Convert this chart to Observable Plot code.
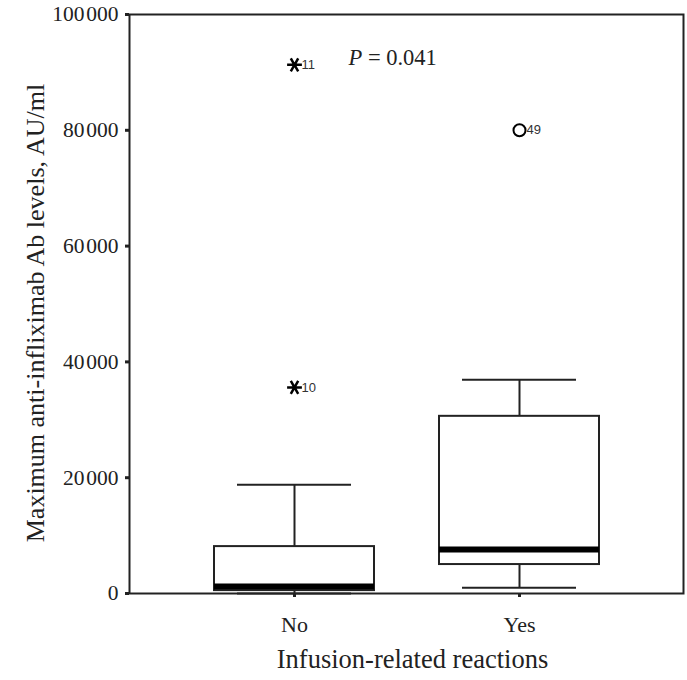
<!DOCTYPE html>
<html>
<head>
<meta charset="utf-8">
<script src="https://cdn.jsdelivr.net/npm/d3@7"></script>
<script src="https://cdn.jsdelivr.net/npm/@observablehq/plot@0.6"></script>
<style>
  html, body { margin: 0; padding: 0; background: white; }
</style>
</head>
<body>
<div id="chart"></div>
<script>
// Categories and box-plot summaries (AU/ml)
const groups = ["No", "Yes"];
const whiskerLow = [0, 1000];
const q1 = [500, 5000];
const median = [1200, 7600];
const q3 = [8100, 30600];
const whiskerHigh = [18800, 36900];

// Outliers
const outlierGroup = ["No", "No", "Yes"];
const outlierValue = [35600, 91300, 80000];
const outlierId = ["10", "11", "49"];
const outlierKind = ["extreme", "extreme", "mild"];

// Axis ticks and labels
const yTicks = [0, 20000, 40000, 60000, 80000, 100000];
const yLabel = "Maximum anti-infliximab Ab levels, AU/ml";
const xLabel = "Infusion-related reactions";
const pText = "P = 0.041";
const pPosition = {group: "No", value: 92600};

const boxes = groups.map((g, i) => ({
  group: g, lo: whiskerLow[i], q1: q1[i], median: median[i], q3: q3[i], hi: whiskerHigh[i]
}));
const outliers = outlierValue.map((v, i) => ({
  group: outlierGroup[i], value: v, id: outlierId[i], kind: outlierKind[i]
}));

const fmt = d => {
  if (d === 0) return "0";
  const s = String(d);
  return s.slice(0, s.length - 3) + "\u200A" + s.slice(-3);
};

const ink = "#222";

const chart = Plot.plot({
  width: 687,
  height: 680,
  marginLeft: 129,
  marginRight: 4,
  marginTop: 14,
  marginBottom: 87,
  style: {fontFamily: "'Liberation Serif', 'Times New Roman', serif", fontSize: "21px", color: ink, background: "white"},
  x: {type: "band", domain: groups, paddingInner: 0.289, paddingOuter: 0.3755},
  y: {domain: [0, 100000]},
  marks: [
    Plot.frame({stroke: ink, strokeWidth: 2}),
    Plot.axisY({
      ticks: yTicks, tickFormat: fmt, tickSize: 4, strokeWidth: 3, tickPadding: 7,
      fontSize: 21.5, label: yLabel, labelAnchor: "center", labelArrow: "none", labelOffset: 104
    }),
    Plot.axisX({
      tickSize: 4, strokeWidth: 3, tickPadding: 19, fontSize: 22,
      label: xLabel, labelAnchor: "center", labelArrow: "none", labelOffset: 74
    }),
    // whiskers
    Plot.ruleX(boxes, {x: "group", y1: "lo", y2: "q1", stroke: ink, strokeWidth: 2}),
    Plot.ruleX(boxes, {x: "group", y1: "q3", y2: "hi", stroke: ink, strokeWidth: 2}),
    Plot.tickY(boxes, {x: "group", y: "lo", insetLeft: 23, insetRight: 23, stroke: ink, strokeWidth: 2}),
    Plot.tickY(boxes, {x: "group", y: "hi", insetLeft: 23, insetRight: 23, stroke: ink, strokeWidth: 2}),
    // boxes
    Plot.barY(boxes, {x: "group", y1: "q1", y2: "q3", fill: "white", stroke: ink, strokeWidth: 2}),
    Plot.tickY(boxes, {x: "group", y: "median", stroke: "black", strokeWidth: 6}),
    // outliers
    Plot.dot(outliers.filter(d => d.kind === "extreme"), {
      x: "group", y: "value", symbol: "asterisk", r: 7, rotate: 90, stroke: "black", strokeWidth: 2.5
    }),
    Plot.dot(outliers.filter(d => d.kind === "mild"), {
      x: "group", y: "value", symbol: "circle", r: 6, stroke: "black", strokeWidth: 2, fill: "none"
    }),
    Plot.text(outliers, {
      x: "group", y: "value", text: "id", dx: 7, textAnchor: "start",
      fontFamily: "'Liberation Sans', Arial, sans-serif", fontSize: 13, fill: "#333"
    }),
    // p-value annotation
    Plot.text([pPosition], {
      x: "group", y: "value", text: () => pText, dx: 54, textAnchor: "start",
      fontSize: 22.5, fill: ink, className: "pval"
    })
  ]
});

document.getElementById("chart").appendChild(chart);

// Axis label font size and small positional nudges
const yl = d3.select(chart).select('[aria-label="y-axis label"]');
yl.selectAll("text").style("font-size", "26px");
yl.attr("transform", ((yl.attr("transform") || "") + " translate(0,9)").trim());
const xl = d3.select(chart).select('[aria-label="x-axis label"]');
xl.selectAll("text").style("font-size", "26.5px");
xl.attr("transform", ((xl.attr("transform") || "") + " translate(6,0)").trim());

// Italicise the "P"
d3.select(chart).selectAll(".pval text").each(function () {
  const t = d3.select(this);
  const full = t.text();
  t.text(null);
  t.append("tspan").attr("font-style", "italic").text(full.slice(0, 1));
  t.append("tspan").text(full.slice(1));
});
</script>
</body>
</html>
